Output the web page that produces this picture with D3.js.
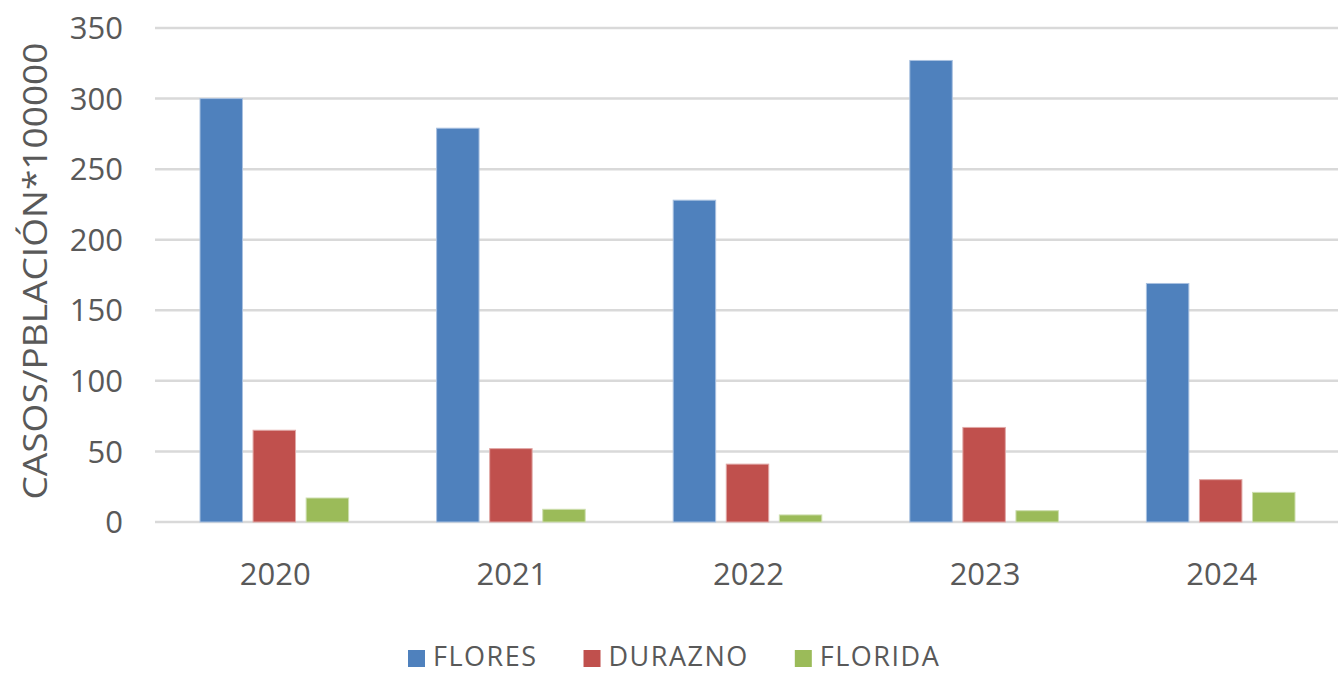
<!DOCTYPE html>
<html lang="es">
<head>
<meta charset="utf-8">
<title>Casos por población</title>
<script src="https://d3js.org/d3.v7.min.js"></script>
<style>
  body { margin: 0; background: #fff; }
  svg text { font-family: "Open Sans", sans-serif; fill: #595959; }
</style>
</head>
<body>
<script>
  // data
  var years = ["2020", "2021", "2022", "2023", "2024"];
  var seriesNames = ["FLORES", "DURAZNO", "FLORIDA"];
  var flores = [300, 279, 228, 327, 169];
  var durazno = [65, 52, 41, 67, 30];
  var florida = [17, 9, 5, 8, 21];
  var yTicks = [0, 50, 100, 150, 200, 250, 300, 350];
  var colors = ["#4f81bd", "#c0504d", "#9bbb59"];
  var strokes = ["#a9c1e0", "#e0a8a6", "#cddeae"];

  var allSeries = [flores, durazno, florida];

  var w = 1338, h = 673;
  var plotLeft = 155, plotRight = 1338, plotTop = 28, plotBottom = 522;

  var svg = d3.select("body").append("svg")
      .attr("width", w)
      .attr("height", h);

  var y = d3.scaleLinear().domain([0, 350]).range([plotBottom, plotTop]);

  var x0 = d3.scaleBand().domain(years).range([plotLeft, plotRight]).padding(0);

  // inner band for the three series inside one year
  var x1 = d3.scaleBand().domain(seriesNames)
      .range([45, x0.bandwidth() - 43])
      .paddingInner(0.2).paddingOuter(0);

  // gridlines
  svg.append("g")
    .selectAll("line")
    .data(yTicks)
    .enter().append("line")
      .attr("x1", plotLeft).attr("x2", plotRight)
      .attr("y1", function(d) { return y(d); })
      .attr("y2", function(d) { return y(d); })
      .attr("stroke", "#d9d9d9")
      .attr("stroke-width", 2.5);

  // y tick labels
  svg.append("g")
    .selectAll("text")
    .data(yTicks)
    .enter().append("text")
      .attr("x", 123)
      .attr("y", function(d) { return y(d); })
      .attr("dy", "0.36em")
      .attr("text-anchor", "end")
      .style("font-size", "31px")
      .text(function(d) { return d; });

  // bars
  var groups = svg.append("g")
    .selectAll("g")
    .data(years)
    .enter().append("g")
      .attr("transform", function(d) { return "translate(" + x0(d) + ",0)"; });

  groups.selectAll("rect")
    .data(function(d, i) {
      return seriesNames.map(function(s, k) {
        return { name: s, k: k, value: allSeries[k][i] };
      });
    })
    .enter().append("rect")
      .attr("x", function(d) { return x1(d.name); })
      .attr("y", function(d) { return y(d.value); })
      .attr("width", x1.bandwidth())
      .attr("height", function(d) { return y(0) - y(d.value); })
      .attr("fill", function(d) { return colors[d.k]; })
      .attr("stroke", function(d) { return strokes[d.k]; })
      .attr("stroke-width", 1);

  // x labels
  svg.append("g")
    .selectAll("text")
    .data(years)
    .enter().append("text")
      .attr("x", function(d) { return x0(d) + x0.bandwidth() / 2 + 2; })
      .attr("y", 585)
      .attr("text-anchor", "middle")
      .style("font-size", "31px")
      .text(function(d) { return d; });

  // y axis title
  var title = svg.append("text")
      .attr("transform", "translate(47,271) rotate(-90)")
      .attr("text-anchor", "middle")
      .style("font-size", "33px")
      .text("CASOS/PBLACIÓN*100000");
  // stretch to the reference length
  var tl = title.node().getComputedTextLength();
  if (tl < 450) {
    title.attr("textLength", 457).attr("lengthAdjust", "spacingAndGlyphs");
  }

  // legend
  var legend = svg.append("g");
  var lx = 408;
  seriesNames.forEach(function(s, k) {
    legend.append("rect")
      .attr("x", lx).attr("y", 650)
      .attr("width", 17).attr("height", 17)
      .attr("fill", colors[k]);
    var t = legend.append("text")
      .attr("x", lx + 25)
      .attr("y", 666)
      .style("font-size", "27px")
      .style("letter-spacing", "1.5px")
      .text(s);
    lx = lx + 25 + t.node().getComputedTextLength() + 46;
  });
</script>
</body>
</html>
